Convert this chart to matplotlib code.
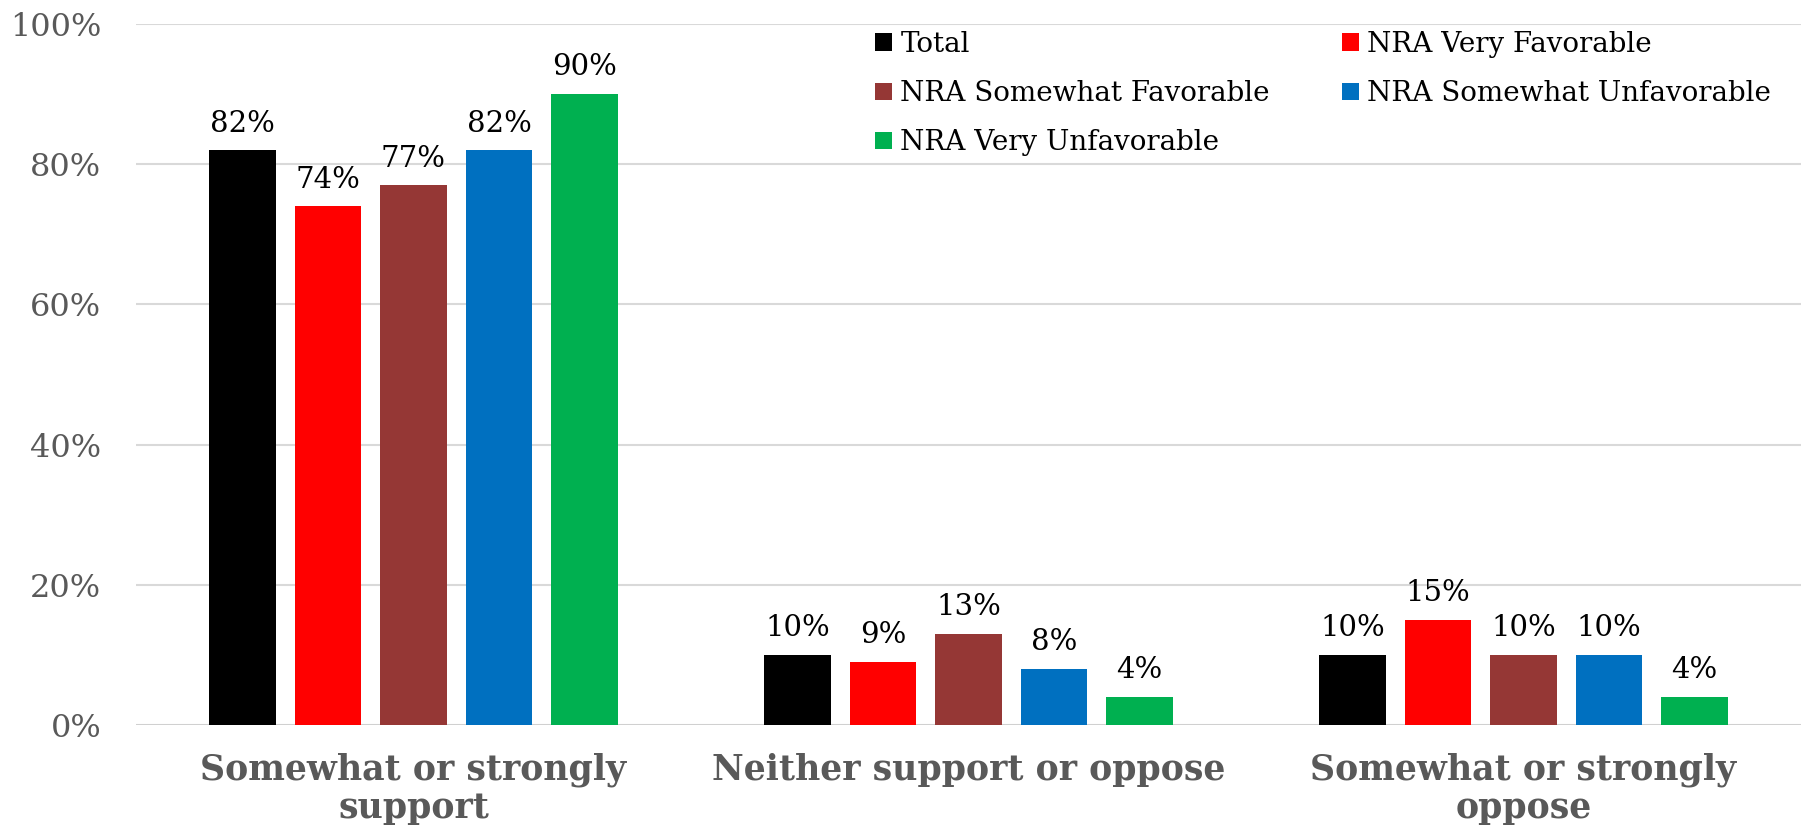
import matplotlib
matplotlib.use("Agg")
import matplotlib.pyplot as plt
import numpy as np

categories = ["Somewhat or strongly\nsupport", "Neither support or oppose", "Somewhat or strongly\noppose"]
series_names = ["Total", "NRA Very Favorable", "NRA Somewhat Favorable", "NRA Somewhat Unfavorable", "NRA Very Unfavorable"]
total = [82, 10, 10]
very_fav = [74, 9, 15]
somewhat_fav = [77, 13, 10]
somewhat_unfav = [82, 8, 10]
very_unfav = [90, 4, 4]
colors = ["#000000", "#FF0000", "#953735", "#0070C0", "#00B050"]
yticks = [0, 20, 40, 60, 80, 100]

series = [total, very_fav, somewhat_fav, somewhat_unfav, very_unfav]

plt.rcParams['font.family'] = ['DejaVu Serif']
fig = plt.figure(figsize=(18.08, 8.32), dpi=100)
ax = fig.add_axes([136/1808, 1-725/832, (1801-136)/1808, (725-24)/832])

x = np.arange(len(categories))
step = 0.154
width = 0.12
handles = []
for i, (vals, c, name) in enumerate(zip(series, colors, series_names)):
    pos = x + (i - 2) * step
    b = ax.bar(pos, vals, width=width, color=c, label=name, zorder=3)
    handles.append(b)
    for p, v in zip(pos, vals):
        ax.text(p, v + 1.8, f"{v}%", ha='center', va='bottom', fontsize=21, color='black', zorder=4)

ax.set_xlim(-0.5, 2.5)
ax.set_ylim(0, 100)
ax.set_yticks(yticks)
ax.set_yticklabels([f"{t}%" for t in yticks], fontsize=23, color='#595959')
ax.set_xticks(x)
ax.set_xticklabels(categories, fontsize=25, fontweight='bold', color='#595959', linespacing=1.15)
ax.tick_params(axis='both', length=0)
ax.tick_params(axis='x', pad=20)
ax.tick_params(axis='y', pad=25)
for s in ax.spines.values():
    s.set_visible(False)
ax.grid(axis='y', color='#d9d9d9', linewidth=1.5, zorder=0)
ax.axhline(0, color='#d0d0d0', linewidth=2, zorder=2)

order = [0, 2, 4, 1, 3]
leg = ax.legend([handles[i] for i in order], [series_names[i] for i in order], ncol=2,
                loc='upper left', bbox_to_anchor=(0.444, 0.99),
                frameon=False, fontsize=20, handlelength=0.6, handleheight=0.6,
                handletextpad=0.3, columnspacing=2.6, labelspacing=0.8,
                borderaxespad=0, borderpad=0)

fig.savefig("out.png", dpi=100, facecolor='white')
